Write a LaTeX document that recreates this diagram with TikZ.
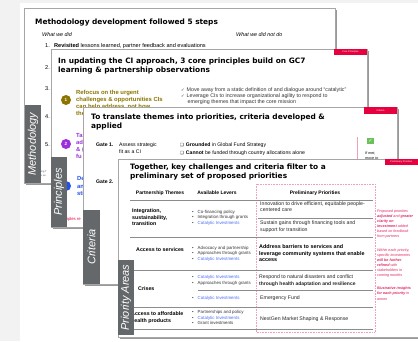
\documentclass[tikz,border=0pt]{standalone}
\usepackage{fontspec}
\setmainfont{Liberation Sans}
\newfontfamily\dejavu{DejaVu Sans}
\newcommand\fz[1]{\fontsize{#1}{#1}\selectfont}
\definecolor{bggray}{HTML}{F2F2F2}
\definecolor{tabgray}{HTML}{65686B}
\definecolor{gfred}{HTML}{E6003E}
\definecolor{olivec}{HTML}{8A7500}
\definecolor{purplec}{HTML}{9B30D9}
\definecolor{bluec}{HTML}{2350F0}
\definecolor{catblue}{HTML}{4A6CF7}
\definecolor{annred}{HTML}{E5245E}
\definecolor{pinkd}{HTML}{F2A0B5}
\definecolor{icongreen}{HTML}{6CBF5A}
\definecolor{linegray}{HTML}{8C8C8C}
\begin{document}
\begin{tikzpicture}[x=1pt,y=-1pt,
  t/.style={inner sep=0pt,anchor=base west},
  tc/.style={inner sep=0pt,anchor=base},
  sld/.style={fill=white,draw=black!35,line width=0.4pt},
  shd/.style={fill=black!40},
  tabbox/.style={fill=tabgray},
  tabtxt/.style={inner sep=0pt,rotate=90,text=white,font=\fz{11}\itshape},
  tagbox/.style={fill=gfred},
  tagtxt/.style={inner sep=0pt,text=white,font=\fz{2.4}},
  ttl/.style={t,font=\dejavu\bfseries\fz{7.4}},
  body/.style={t,font=\fz{5.6}},
  olv/.style={t,font=\bfseries\fz{5.9},text=olivec},
  prp/.style={t,font=\bfseries\fz{5.9},text=purplec},
  blu/.style={t,font=\bfseries\fz{5.9},text=bluec},
  chk/.style={t,font=\fz{5.3},text=black!80},
  gate/.style={t,font=\fz{5.15}},
  lev/.style={t,font=\fz{4.4},text=black!80},
  pri/.style={t,font=\fz{5.2},text=black!85},
  prib/.style={t,font=\bfseries\fz{5.4}},
  thm/.style={t,font=\bfseries\fz{5.3}},
  hdr/.style={tc,font=\bfseries\fz{5}},
  ann/.style={t,font=\itshape\fz{3.7},text=annred},
  num/.style={circle,inner sep=0pt,minimum size=10pt,text=white,font=\bfseries\fz{4.5}},
  tline/.style={draw=linegray,line width=0.9pt}
]
\clip (0,0) rectangle (418,341);
\fill[bggray] (0,0) rectangle (418,341);
\fill[white] (20,3) rectangle (418,341);

% ---------- Slide 1 ----------
\fill[shd] (25.5,9.5) rectangle (336.5,184.5);
\draw[sld] (24,8) rectangle (335,183);
\node[ttl] (s1title) at (35,24.5) {Methodology development followed 5 steps};
\node[body,font=\itshape\fz{5.4}] (s1did) at (42,36) {What we did};
\node[body,font=\itshape\fz{5.4}] (s1didnot) at (236,36) {What we did not do};
\node[body] (s1n1) at (45,47) {1.};
\node[body] (s1i1) at (54,47) {\underline{\textbf{Revisited} lessons learned, partner feedback and evaluations}};
\node[body] (s1n2) at (45,69) {2.};
\node[body] (s1n3) at (45,90) {3.};
\node[body] (s1n4) at (45,118) {4.};
\node[body] (s1n5) at (45,146) {5.};
\node[t,font=\fz{2.4},text=black!70] (s1f1) at (41,172.5) {ing T};
\node[t,font=\fz{2.4},text=black!70] (s1f2) at (41,176) {s an};
\fill[tabbox] (25,105) rectangle (41,183);
\node[tabtxt] (tab1) at (33,144) {Methodology};

% ---------- Slide 2 ----------
\fill[shd] (52.5,50.5) rectangle (368.5,228.5);
\draw[sld] (51,49) rectangle (367,227);
\fill[tagbox] (334,49) rectangle (367,55);
\node[tagtxt] (tag2) at (350.5,52) {Core Principles};
\node[ttl] (s2t1) at (58,63.5) {In updating the CI approach, 3 core principles build on GC7};
\node[ttl] (s2t2) at (58,72.5) {learning \& partnership observations};
\node[num,fill=olivec] (c1) at (66,100) {1};
\node[olv] (o1) at (76,94) {Refocus on the urgent};
\node[olv] (o2) at (76,101) {challenges \& opportunities CIs};
\node[olv] (o3) at (76,108) {can help address, not how};
\node[olv] (o4) at (76,115) {the};
\node[chk] (k1) at (181,91) {{\dejavu\fz{4.2}✓}\hspace{2pt}Move away from a static definition of and dialogue around “catalytic”};
\node[chk] (k2) at (181,97) {{\dejavu\fz{4.2}✓}\hspace{2pt}Leverage CIs to increase organizational agility to respond to};
\node[chk] (k3) at (187.5,103.5) {emerging themes that impact the core mission};
\node[num,fill=purplec] (c2) at (66,144) {2};
\node[prp] (p1) at (76,137) {Ta};
\node[prp] (p2) at (76,144) {ad};
\node[prp] (p3) at (76,151) {\& (};
\node[prp] (p4) at (76,158) {fu};
\node[num,fill=bluec] (c3) at (66,186) {3};
\node[blu] (b1) at (77,180) {De};
\node[blu] (b2) at (77,188) {an};
\node[blu] (b3) at (77,195) {sti};
\node[t,font=\fz{4.2},text=gfred] (r1) at (67,220) {iples re};
\fill[tabbox] (51,157) rectangle (67,227);
\node[tabtxt] (tab2) at (59,192) {Principles};

% ---------- Slide 3 ----------
\fill[shd] (84.5,108.5) rectangle (398.5,285.5);
\draw[sld] (83,107) rectangle (397,284);
\fill[tagbox] (364,107) rectangle (397,114);
\node[tagtxt] (tag3) at (380.5,110.5) {Criteria};
\node[ttl] (s3t1) at (91,119.5) {To translate themes into priorities, criteria developed \&};
\node[ttl] (s3t2) at (91,128) {applied};
\node[gate,font=\bfseries\fz{5.15}] (g1) at (96,146) {Gate 1.};
\node[gate] (g1a) at (119,146) {Assess strategic};
\node[gate] (g1b) at (119,153.5) {fit as a CI};
\node[gate] (g1c) at (180,146) {{\dejavu\fz{4.2}❑}\hspace{2pt}\textbf{Grounded} in Global Fund Strategy};
\node[gate] (g1d) at (180,154) {{\dejavu\fz{4.2}❑}\hspace{2pt}\textbf{Cannot} be funded through country allocations alone};
\coordinate (vl1) at (357,137);
\coordinate (vl2) at (357,162);
\draw[pinkd,line width=0.6pt] (vl1) -- (vl2);
\node[fill=icongreen,minimum size=6.5pt,inner sep=0pt,text=white,font=\dejavu\bfseries\fz{5}] (icon) at (370.5,141) {✓};
\node[t,font=\itshape\fz{3.7}] (ifm1) at (365,154) {If met,};
\node[t,font=\itshape\fz{3.7}] (ifm2) at (365,159.5) {move to};
\node[gate,font=\bfseries\fz{5.15}] (g2) at (96,183) {Gate 2.};
\fill[tabbox] (83,210) rectangle (100,284);
\node[tabtxt] (tab3) at (91.5,247) {Criteria};

% ---------- Slide 4 ----------
\fill[shd] (119.5,160.5) rectangle (432,338.5);
\draw[sld] (118,159) rectangle (430,337);
\fill[tagbox] (385,159) rectangle (430,165);
\node[tagtxt,anchor=west] (tag4) at (390,162) {Preliminary Priorities};
\node[ttl] (s4t1) at (130,169.5) {Together, key challenges and criteria filter to a};
\node[ttl] (s4t2) at (130,178) {preliminary set of proposed priorities};
\draw[pinkd,densely dotted,line width=0.6pt] (256,184) rectangle (375,332);
\node[hdr] (h1) at (160,194.5) {Partnership Themes};
\node[hdr] (h2) at (217,194.5) {Available Levers};
\node[hdr] (h3) at (315,194.5) {Preliminary Priorities};
\coordinate (L0a) at (130,200); \coordinate (L0b) at (373,200);
\draw[tline] (L0a) -- (L0b);
% row 1
\node[thm] (th1a) at (132,212.5) {Integration,};
\node[thm] (th1b) at (132,219) {sustainability,};
\node[thm] (th1c) at (132,225.5) {transition};
\node[lev] (l1a) at (192,213.5) {•\hspace{4pt}Co-financing policy};
\node[lev] (l1b) at (192,218.9) {•\hspace{4pt}Integration through grants};
\node[lev] (l1c) at (192,224.3) {•\hspace{4pt}\textcolor{catblue}{Catalytic Investments}};
\node[pri] (p1a) at (260,205) {Innovation to drive efficient, equitable people-};
\node[pri] (p1b) at (260,211.5) {centered care};
\coordinate (L1a) at (258,218); \coordinate (L1b) at (373,218);
\draw[tline,line width=0.6pt] (L1a) -- (L1b);
\node[pri] (p1c) at (260,224.5) {Sustain gains through financing tools and};
\node[pri] (p1d) at (260,231) {support for transition};
\coordinate (L2a) at (130,237); \coordinate (L2b) at (373,237);
\draw[tline] (L2a) -- (L2b);
% row 2
\node[thm] (th2) at (136,251.5) {Access to services};
\node[lev] (l2a) at (192,249) {•\hspace{4pt}Advocacy and partnership};
\node[lev] (l2b) at (192,254.5) {•\hspace{4pt}Approaches through grants};
\node[lev] (l2c) at (192,260) {•\hspace{4pt}\textcolor{catblue}{Catalytic Investments}};
\node[prib] (p2a) at (259,248.5) {Address barriers to services and};
\node[prib] (p2b) at (259,255) {leverage community systems that enable};
\node[prib] (p2c) at (259,261.5) {access};
\coordinate (L3a) at (130,270); \coordinate (L3b) at (373,270);
\draw[tline] (L3a) -- (L3b);
% row 3
\node[thm] (th3) at (138,290.5) {Crises};
\node[lev] (l3a) at (192,278.5) {•\hspace{4pt}\textcolor{catblue}{Catalytic Investments}};
\node[lev] (l3b) at (192,284) {•\hspace{4pt}Approaches through grants};
\node[pri] (p3a) at (259,278.5) {Respond to natural disasters and conflict};
\node[pri,font=\bfseries\fz{5}] (p3b) at (259,285) {through health adaptation and resilience};
\coordinate (L4a) at (198,290); \coordinate (L4b) at (373,290);
\draw[tline] (L4a) -- (L4b);
\node[lev] (l3c) at (192,299.5) {•\hspace{4pt}\textcolor{catblue}{Catalytic Investments}};
\node[pri] (p3c) at (260,299.5) {Emergency Fund};
\coordinate (L5a) at (130,307.5); \coordinate (L5b) at (373,307.5);
\draw[tline] (L5a) -- (L5b);
% row 4
\node[thm] (th4a) at (131,315) {Access to affordable};
\node[thm] (th4b) at (131,322) {health products};
\node[lev] (l4a) at (192,313.5) {•\hspace{4pt}Partnerships and policy};
\node[lev] (l4b) at (192,319) {•\hspace{4pt}\textcolor{catblue}{Catalytic Investments}};
\node[lev] (l4c) at (192,324.5) {•\hspace{4pt}Grant investments};
\node[pri] (p4a) at (260,320) {NextGen Market Shaping \& Response};
\coordinate (L6a) at (130,329.5); \coordinate (L6b) at (373,329.5);
\draw[tline] (L6a) -- (L6b);
% annotations
\node[ann] (a1) at (377,212.3) {Proposed priorities};
\node[ann] (a2) at (377,217.4) {\textbf{adjusted} and \textbf{greater}};
\node[ann] (a3) at (377,222.5) {\textbf{clarity on}};
\node[ann] (a4) at (377,227.6) {\textbf{investment} added};
\node[ann] (a5) at (377,232.7) {based on feedback};
\node[ann] (a6) at (377,237.8) {from partners};
\node[ann] (a7) at (377,251.3) {Within each priority,};
\node[ann] (a8) at (377,256.4) {specific investments};
\node[ann] (a9) at (377,261.5) {\textbf{will be further}};
\node[ann] (a10) at (377,266.6) {\textbf{refined} with};
\node[ann] (a11) at (377,271.7) {stakeholders in};
\node[ann] (a12) at (377,276.8) {coming months};
\node[ann] (a13) at (377,289.5) {\textbf{Illustrative insights}};
\node[ann] (a14) at (377,294.8) {\textbf{for each priority} in};
\node[ann] (a15) at (377,300.1) {annex};
\fill[tabbox] (118,260) rectangle (134,335);
\node[tabtxt] (tab4) at (126,297.5) {Priority Areas};
\end{tikzpicture}
\end{document}
